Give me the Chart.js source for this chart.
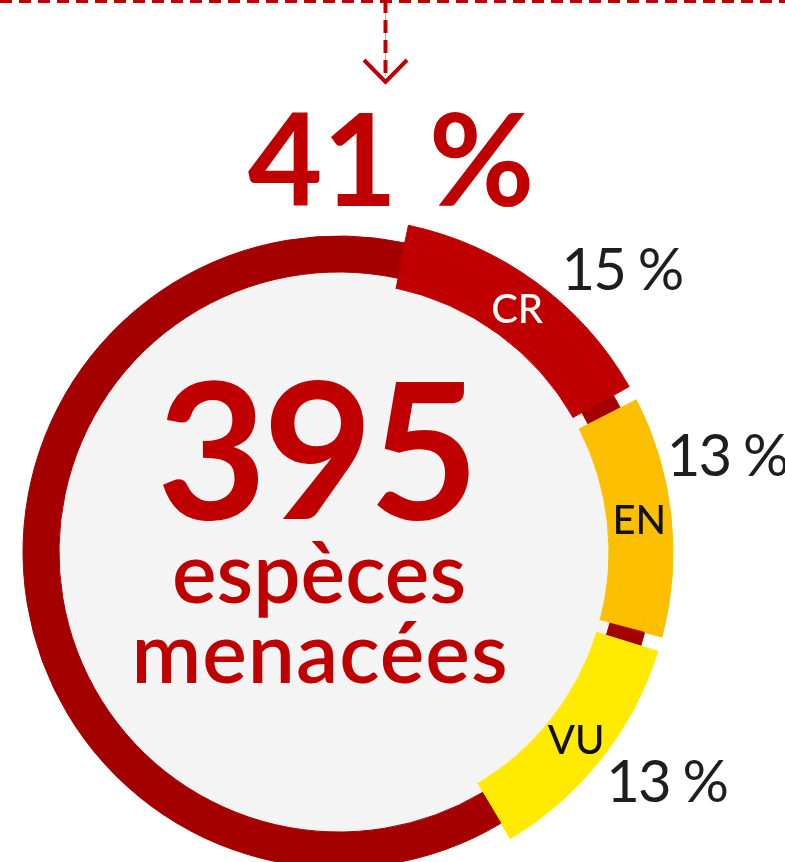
<!DOCTYPE html>
<html>
<head>
<meta charset="utf-8">
<script src="https://cdn.jsdelivr.net/npm/chart.js@4"></script>
<style>
  html, body { margin: 0; padding: 0; background: #fff; overflow: hidden; }
  #wrap { position: relative; width: 785px; height: 862px; }
</style>
</head>
<body>
<div id="wrap"><canvas id="chart-threat"></canvas></div>
<script>
// Data
const categories = ['CR', 'EN', 'VU'];
const shares = [15, 13, 13];            // % of species
const shareLabels = ['15 %', '13 %', '13 %'];
const totalShare = '41 %';
const speciesCount = '395';
const captionLines = ['espèces', 'menacées'];

// Colours
const RED = '#c00000';
const DARK_RED = '#a50000';
const INNER = '#f4f4f4';
const segColors = ['#c00000', '#fcbf00', '#ffea00'];
const segTextColors = ['#ffffff', '#111111', '#111111'];

// Ring layout: degrees per percent, gap between segments (in %)
const degPerPct = 3.22;
const gapPct = 0.8;
const totalUnits = 360 / degPerPct;

// Sequence: CR, gap, EN, gap, VU, rest
const slices = [];
const sliceKind = [];   // index of category, or -1 for gap / rest
shares.forEach((v, i) => {
    if (i > 0) { slices.push(gapPct); sliceKind.push(-1); }
    slices.push(v); sliceKind.push(i);
});
slices.push(totalUnits - slices.reduce((a, b) => a + b, 0));
sliceKind.push(-1);

const colorsFor = (other) => sliceKind.map(k => k >= 0 ? segColors[k] : other);

// Top dashed rule with arrow, and all the text on top of the ring
const decorations = {
    id: 'decorations',
    beforeDraw(chart) {
        const ctx = chart.ctx;
        ctx.save();
        // horizontal dashed rule
        ctx.strokeStyle = RED;
        ctx.lineWidth = 6;
        ctx.setLineDash([12, 7]);
        ctx.beginPath(); ctx.moveTo(0, 0); ctx.lineTo(785, 0); ctx.stroke();
        // thin guide line
        ctx.setLineDash([]);
        ctx.strokeStyle = '#8fb3c3';
        ctx.lineWidth = 1;
        ctx.beginPath(); ctx.moveTo(385.5, 0); ctx.lineTo(385.5, 76); ctx.stroke();
        // dashed vertical
        ctx.strokeStyle = RED;
        ctx.lineWidth = 4;
        ctx.setLineDash([13, 7]);
        ctx.beginPath(); ctx.moveTo(385.5, 0); ctx.lineTo(385.5, 76); ctx.stroke();
        // chevron
        ctx.setLineDash([]);
        ctx.lineWidth = 4;
        ctx.beginPath(); ctx.moveTo(364, 60); ctx.lineTo(385.5, 82); ctx.lineTo(407, 60); ctx.stroke();
        ctx.restore();
    },
    afterDraw(chart) {
        const ctx = chart.ctx;
        const meta = chart.getDatasetMeta(1);
        const cx = meta.data[0].x, cy = meta.data[0].y;
        ctx.save();
        ctx.textAlign = 'center';
        ctx.textBaseline = 'alphabetic';

        // headline share
        ctx.fillStyle = RED;
        ctx.font = 'bold 129px Lato';
        ctx.fillText(totalShare, 391, 206);

        // centre count and caption
        ctx.font = 'bold 190px Lato';
        ctx.letterSpacing = '-4px';
        ctx.fillText(speciesCount, 316, 519);
        ctx.letterSpacing = '0px';
        ctx.font = '600 84px Lato';
        ctx.fillText(captionLines[0], 319, 603);
        ctx.letterSpacing = '1px';
        ctx.fillText(captionLines[1], 320, 683);
        ctx.letterSpacing = '0px';

        // category codes inside the segments, shares outside
        const pctAnchorDeg = [45, 76, 125];
        meta.data.forEach((arc, j) => {
            const k = sliceKind[j];
            if (k < 0) return;
            const mid = (arc.startAngle + arc.endAngle) / 2;
            const r = 302;
            ctx.fillStyle = segTextColors[k];
            ctx.font = '500 40px Lato';
            ctx.textBaseline = 'middle';
            ctx.fillText(categories[k], cx + r * Math.cos(mid), cy + r * Math.sin(mid) + 2);

            const a = (pctAnchorDeg[k] - 90) * Math.PI / 180;
            ctx.textBaseline = 'alphabetic';
            ctx.fillStyle = '#1e1e1e';
            ctx.font = '58px Lato';
            ctx.letterSpacing = '-2px';
            ctx.fillText(shareLabels[k], cx + 400 * Math.cos(a), cy + 400 * Math.sin(a) + 21);
            ctx.letterSpacing = '0px';
        });
        ctx.restore();
    }
};

const ring = (weight, other) => ({
    data: slices, weight, rotation: 12, clip: false,
    backgroundColor: colorsFor(other),
    borderColor: colorsFor(other), borderWidth: 1
});

new Chart(document.getElementById('chart-threat'), {
    type: 'doughnut',
    data: {
        labels: sliceKind.map(k => k >= 0 ? categories[k] : ''),
        datasets: [
            ring(18, 'rgba(0,0,0,0)'),
            ring(36, DARK_RED),
            ring(10, INNER),
            { data: [1], weight: 270, clip: false, backgroundColor: [INNER], borderColor: [INNER], borderWidth: 1 },
        ]
    },
    options: {
        responsive: true, maintainAspectRatio: false, animation: false,
        cutout: 0, radius: 334,
        layout: { padding: { left: 0, right: 107, top: 242, bottom: 0 } },
        plugins: { legend: { display: false }, tooltip: { enabled: false } },
        events: []
    },
    plugins: [decorations]
});
</script>
</body>
</html>
